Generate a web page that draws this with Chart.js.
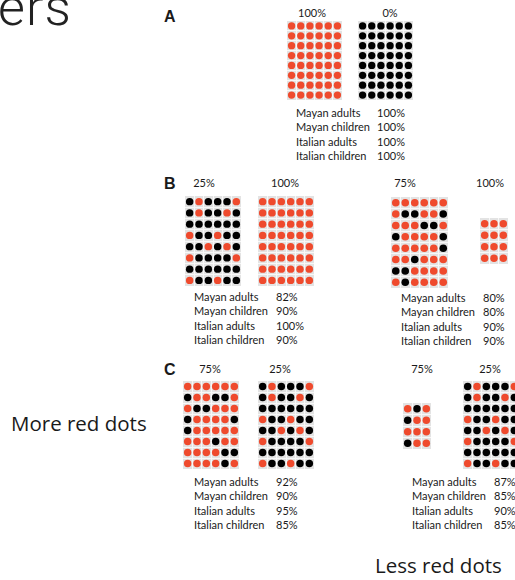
<!DOCTYPE html>
<html>
<head>
<meta charset="utf-8">
<script src="https://cdn.jsdelivr.net/npm/chart.js@4.4.1/dist/chart.umd.min.js"></script>
<style>
  html, body { margin: 0; padding: 0; background: #fff; }
  body { width: 515px; height: 580px; position: relative; overflow: hidden; font-family: Lato, "Open Sans", sans-serif; color: #1a1a1a; }
  .abs { position: absolute; white-space: nowrap; }
  .big { font-family: Roboto, "Open Sans", sans-serif; font-weight: 300; font-size: 52px; line-height: 52px; letter-spacing: 1px; color: #222; }
  .panel { font-family: "Liberation Sans", Arial, sans-serif; font-weight: bold; font-size: 16px; line-height: 16px; }
  .lbl { font-size: 11px; line-height: 12px; }
  .side { font-family: "Open Sans", sans-serif; font-size: 20.5px; line-height: 24px; }
  .grid { position: absolute; background: #e3e3e3; }
  .grid canvas { display: block; }
</style>
</head>
<body>
<div id="page"></div>
<script>
// groups listed under each pair of grids
const groups = ['Mayan adults', 'Mayan children', 'Italian adults', 'Italian children'];
const scoresA = ['100%', '100%', '100%', '100%'];
const scoresB1 = ['82%', '90%', '100%', '90%'];
const scoresB2 = ['80%', '80%', '90%', '90%'];
const scoresC1 = ['92%', '90%', '95%', '85%'];
const scoresC2 = ['87%', '85%', '90%', '85%'];

// dot patterns, R = red, K = black (one string per row)
const allRed = ['RRRRRR', 'RRRRRR', 'RRRRRR', 'RRRRRR', 'RRRRRR', 'RRRRRR', 'RRRRRR', 'RRRRRR'];
const allBlack = ['KKKKKK', 'KKKKKK', 'KKKKKK', 'KKKKKK', 'KKKKKK', 'KKKKKK', 'KKKKKK', 'KKKKKK'];
const quarterRed = ['KRKKKR', 'KRKKRK', 'KKKKKK', 'RKKRKK', 'KKRKRK', 'RKKKKR', 'KKKKKK', 'RKKRKK'];
const threeQuarterB = ['RRRRRR', 'RKKRRK', 'RRRKKR', 'KRRRRK', 'RRRRRK', 'RRKRRR', 'KKRRRR', 'RKRRRR'];
const threeQuarterC = ['RRRRRR', 'KRRKKR', 'RKKRRR', 'KRRRRK', 'KRRRRR', 'RRRKRR', 'RRRRKK', 'RRRRKR'];
const smallRed = ['RRR', 'RRR', 'RRR', 'RRR'];
const smallC = ['RKR', 'KRR', 'RRR', 'KRR'];

// proportion labels above each grid
const gridTitles = ['100%', '0%', '25%', '100%', '75%', '100%', '75%', '25%', '75%', '25%'];
const gridPatterns = [allRed, allBlack, quarterRed, allRed, threeQuarterB, smallRed, threeQuarterC, quarterRed, smallC, quarterRed];

const RED = '#ef4a2d';
const BLACK = '#000000';

// where each grid sits on the page (left, top, width, height, title centre x, title y)
const gridBoxes = [
    [287, 21, 55, 79, 312, 13],
    [358, 21, 55, 79, 390, 13],
    [185, 196, 56, 90, 204, 183],
    [258, 196, 56, 90, 285, 183],
    [391, 197, 57, 91, 405, 183],
    [480, 218, 28, 46, 490, 183],
    [183, 381, 56, 88, 210, 369],
    [258, 381, 56, 88, 280, 369],
    [403, 403, 28, 46, 422, 369],
    [463, 381, 56, 88, 490, 369]
];

// text blocks: left x, percent x, first row y
const tables = [
    [scoresA, 296, 377, 113],
    [scoresB1, 194, 276, 297],
    [scoresB2, 401, 483, 298],
    [scoresC1, 194, 276, 482],
    [scoresC2, 412, 494, 482]
];

const page = document.getElementById('page');

function addText(cls, text, x, y, center) {
    const d = document.createElement('div');
    d.className = 'abs ' + cls;
    d.textContent = text;
    d.style.left = x + 'px';
    d.style.top = y + 'px';
    if (center) d.style.transform = 'translateX(-50%)';
    page.appendChild(d);
    return d;
}

function drawGrid(pattern, box, title) {
    const [left, top, w, h, tx, ty] = box;
    const rows = pattern.length;
    const cols = pattern[0].length;

    const wrap = document.createElement('div');
    wrap.className = 'grid';
    wrap.style.left = left + 'px';
    wrap.style.top = top + 'px';
    wrap.style.width = w + 'px';
    wrap.style.height = h + 'px';
    const canvas = document.createElement('canvas');
    canvas.width = w;
    canvas.height = h;
    wrap.appendChild(canvas);
    page.appendChild(wrap);

    const points = [];
    const colors = [];
    pattern.forEach((row, r) => {
        row.split('').forEach((cell, c) => {
            points.push({ x: c + 0.5, y: r + 0.5 });
            colors.push(cell === 'R' ? RED : BLACK);
        });
    });

    const radius = Math.min(w / cols, h / rows) * 0.4;
    const innerLine = (max) => (ctx) => (ctx.tick.value === 0 || ctx.tick.value === max) ? 'rgba(0,0,0,0)' : '#f8f8f8';

    new Chart(canvas.getContext('2d'), {
        type: 'scatter',
        data: {
            datasets: [{
                data: points,
                pointBackgroundColor: colors,
                pointBorderWidth: 0,
                pointRadius: radius,
                pointHoverRadius: radius,
                clip: false
            }]
        },
        options: {
            responsive: false,
            animation: false,
            devicePixelRatio: 1,
            layout: { padding: 0, autoPadding: false },
            plugins: { legend: { display: false }, tooltip: { enabled: false } },
            scales: {
                x: {
                    type: 'linear', min: 0, max: cols,
                    ticks: { display: false, stepSize: 1, padding: 0 },
                    grid: { color: innerLine(cols), drawTicks: false, lineWidth: 1 },
                    border: { display: false }
                },
                y: {
                    type: 'linear', min: 0, max: rows, reverse: true,
                    ticks: { display: false, stepSize: 1, padding: 0 },
                    grid: { color: innerLine(rows), drawTicks: false, lineWidth: 1 },
                    border: { display: false }
                }
            }
        }
    });

    addText('lbl', title, tx, ty - 6, true);
}

gridPatterns.forEach((p, i) => drawGrid(p, gridBoxes[i], gridTitles[i]));

tables.forEach(([scores, x, px, y0]) => {
    groups.forEach((g, i) => {
        const y = y0 + i * 14.4 - 6;
        addText('lbl', g, x, y);
        addText('lbl', scores[i], px, y);
    });
});

addText('big', 'ers', -2, -18);
addText('panel', 'A', 164, 9);
addText('panel', 'B', 164, 176);
addText('panel', 'C', 164, 362);
addText('side', 'More red dots', 11, 411);
addText('side', 'Less red dots', 375, 553);
</script>
</body>
</html>
